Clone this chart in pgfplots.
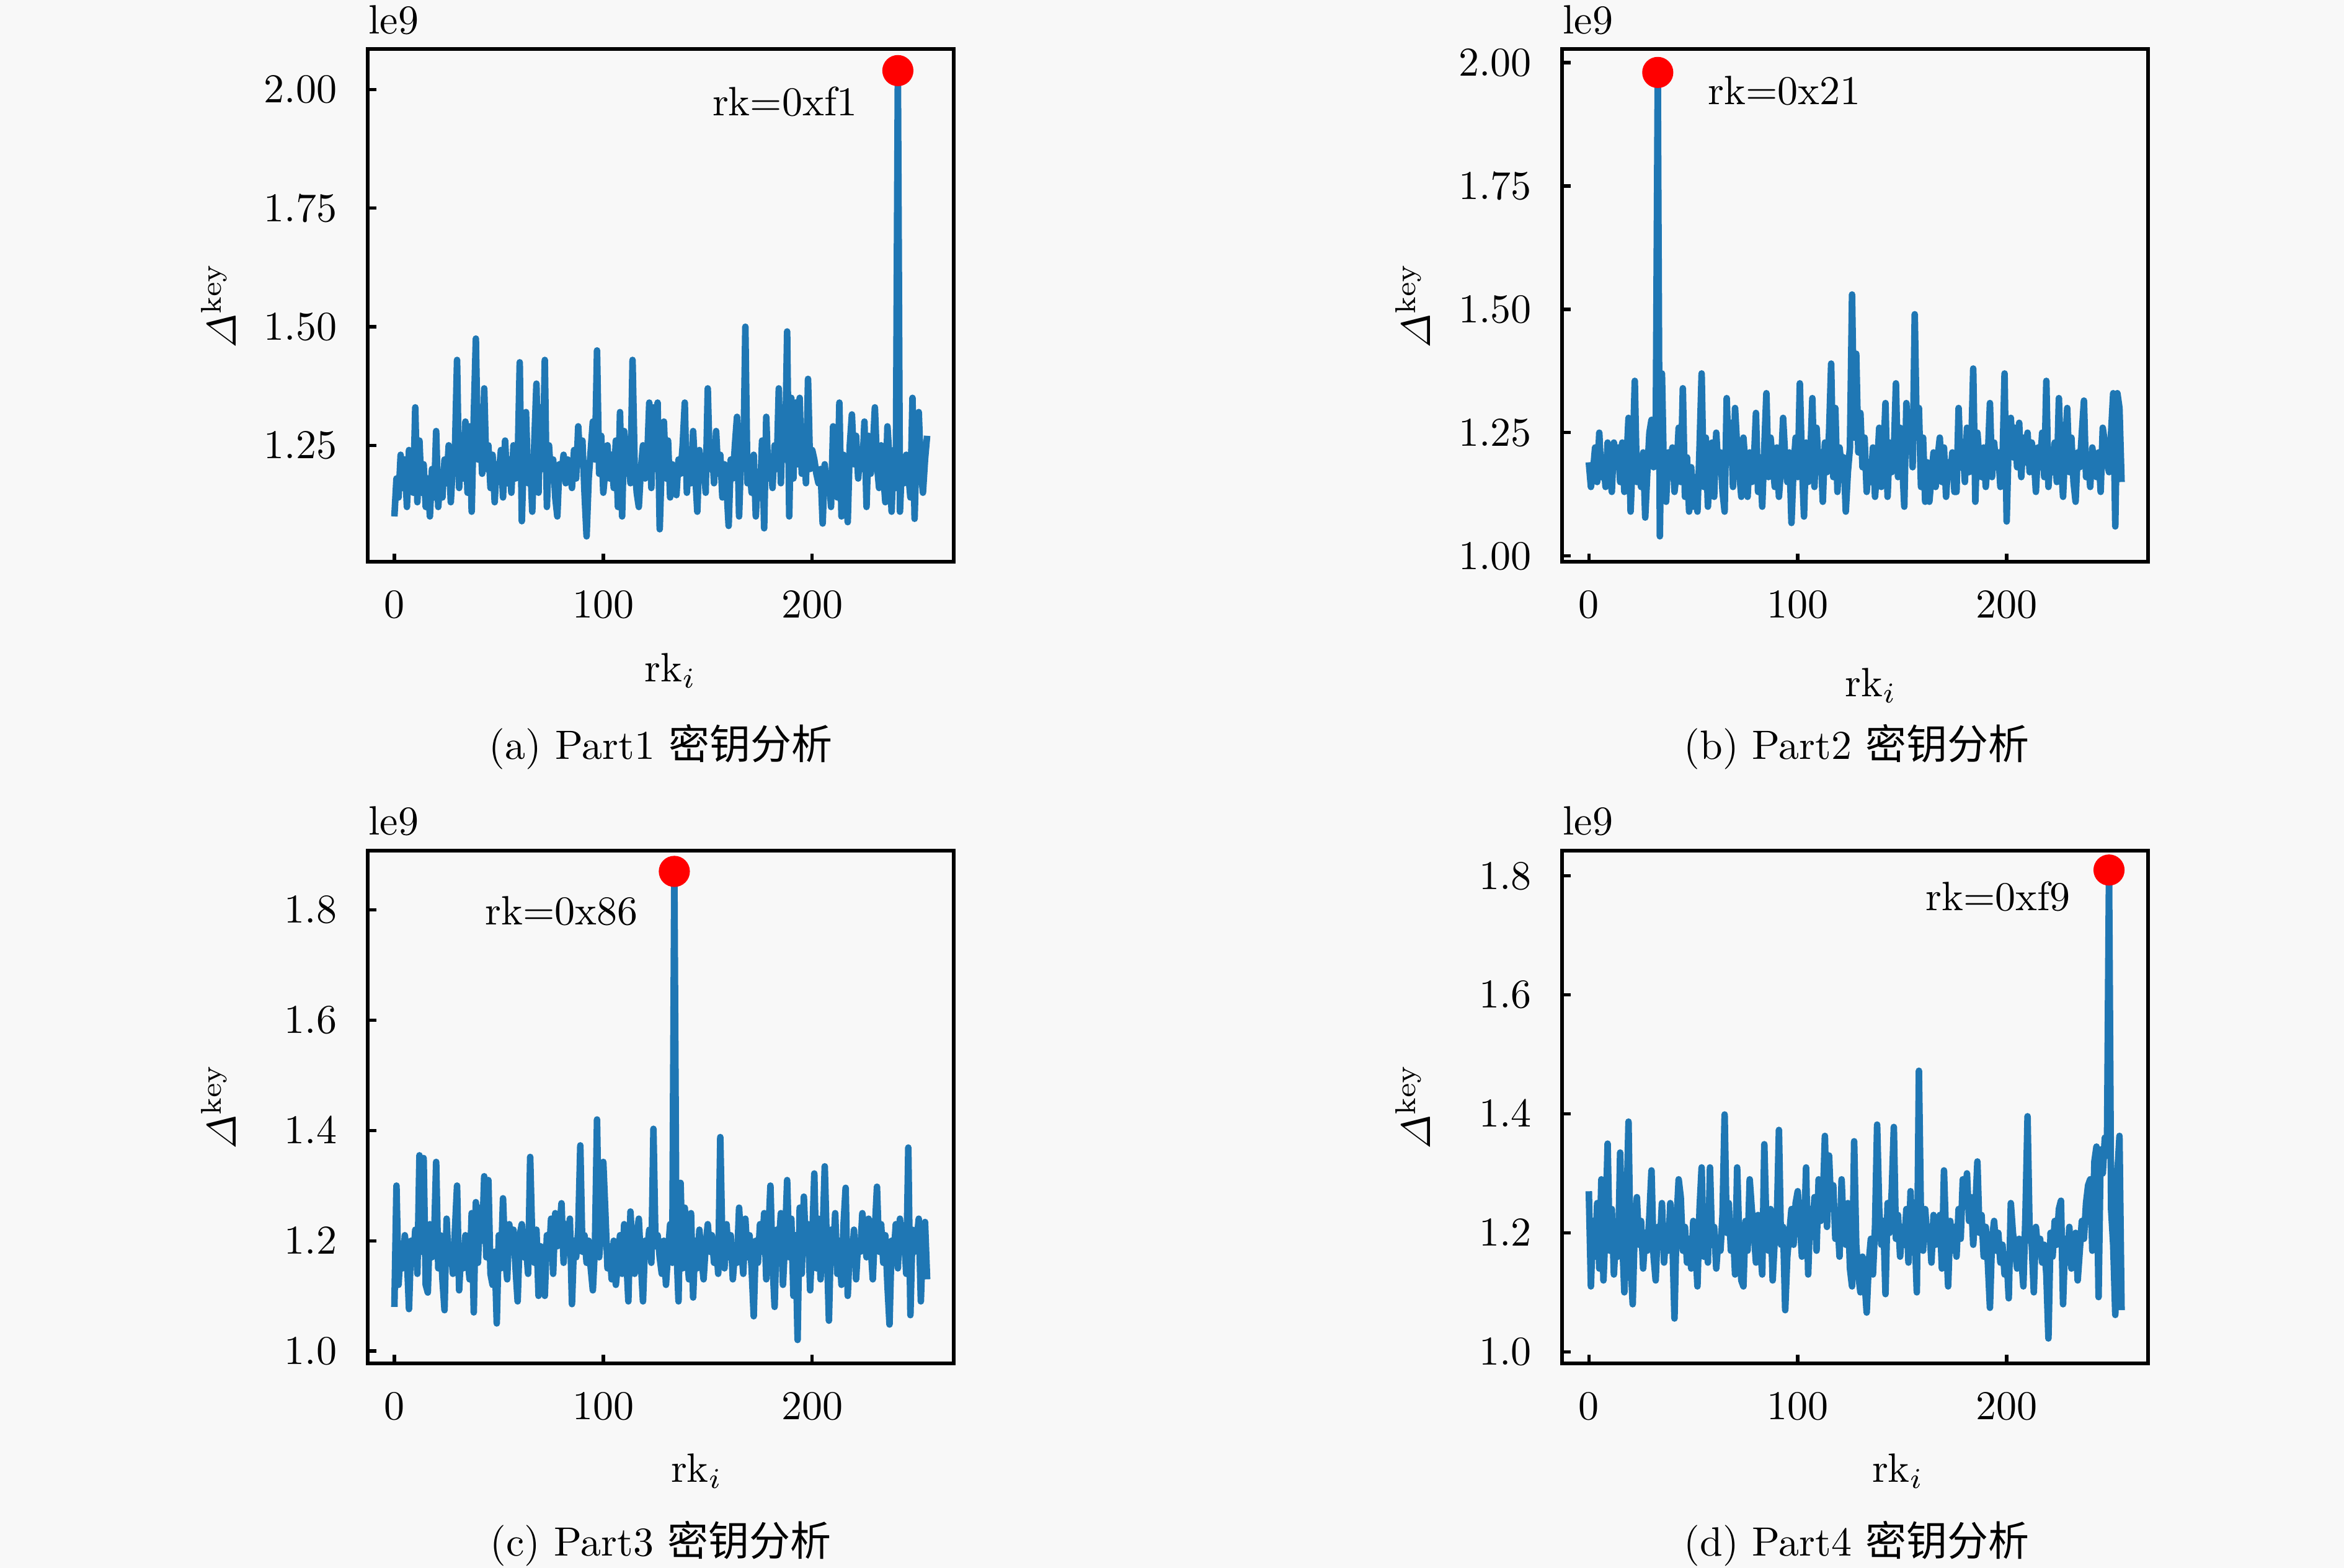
\documentclass[border=0pt]{standalone}
\usepackage{amsmath}
\usepackage{fontspec}
\usepackage{pgfplots}
\usepackage{pgfplotstable}
\pgfplotsset{compat=1.18}
\newfontfamily\cjk{Noto Sans CJK SC}
\definecolor{tabblue}{RGB}{31,119,180}
\definecolor{bgc}{RGB}{248,248,248}

\pgfplotstableread[header=false,row sep=\\]{
1.10\\1.18\\1.14\\1.23\\1.16\\1.22\\1.12\\1.24\\1.19\\1.15\\1.33\\1.13\\1.26\\1.15\\1.21\\1.12\\
1.18\\1.10\\1.20\\1.14\\1.28\\1.12\\1.19\\1.14\\1.22\\1.17\\1.25\\1.13\\1.21\\1.24\\1.43\\1.16\\
1.26\\1.18\\1.30\\1.15\\1.29\\1.11\\1.31\\1.475\\1.22\\1.30\\1.19\\1.37\\1.20\\1.25\\1.16\\1.23\\
1.13\\1.21\\1.19\\1.24\\1.14\\1.26\\1.17\\1.22\\1.15\\1.25\\1.18\\1.21\\1.425\\1.09\\1.24\\1.32\\
1.17\\1.22\\1.11\\1.26\\1.38\\1.15\\1.33\\1.20\\1.43\\1.12\\1.25\\1.18\\1.22\\1.14\\1.10\\1.21\\
1.19\\1.23\\1.17\\1.22\\1.20\\1.16\\1.24\\1.18\\1.29\\1.21\\1.26\\1.15\\1.058\\1.18\\1.24\\1.30\\
1.22\\1.45\\1.19\\1.27\\1.15\\1.20\\1.25\\1.18\\1.23\\1.16\\1.26\\1.12\\1.32\\1.10\\1.28\\1.19\\
1.24\\1.17\\1.43\\1.21\\1.15\\1.12\\1.20\\1.25\\1.18\\1.22\\1.34\\1.16\\1.33\\1.20\\1.34\\1.073\\
1.22\\1.30\\1.18\\1.26\\1.14\\1.21\\1.17\\1.145\\1.22\\1.19\\1.25\\1.34\\1.15\\1.23\\1.17\\1.28\\
1.19\\1.11\\1.24\\1.18\\1.22\\1.15\\1.37\\1.20\\1.25\\1.17\\1.28\\1.19\\1.23\\1.14\\1.21\\1.16\\
1.08\\1.22\\1.18\\1.25\\1.31\\1.10\\1.24\\1.20\\1.50\\1.17\\1.21\\1.15\\1.23\\1.10\\1.19\\1.14\\
1.26\\1.075\\1.31\\1.18\\1.22\\1.16\\1.25\\1.20\\1.37\\1.17\\1.33\\1.22\\1.49\\1.10\\1.35\\1.18\\
1.34\\1.21\\1.35\\1.19\\1.28\\1.17\\1.39\\1.20\\1.24\\1.22\\1.19\\1.17\\1.20\\1.085\\1.21\\1.15\\
1.19\\1.12\\1.29\\1.18\\1.14\\1.34\\1.10\\1.23\\1.17\\1.088\\1.25\\1.315\\1.21\\1.27\\1.18\\1.24\\
1.20\\1.30\\1.12\\1.27\\1.19\\1.24\\1.33\\1.21\\1.16\\1.25\\1.19\\1.13\\1.29\\1.22\\1.11\\1.24\\
1.16\\2.04\\1.11\\1.22\\1.17\\1.23\\1.19\\1.14\\1.35\\1.095\\1.26\\1.32\\1.20\\1.15\\1.22\\1.27\\
}\dataA

\pgfplotstableread[header=false,row sep=\\]{
1.19\\1.14\\1.17\\1.22\\1.15\\1.25\\1.16\\1.20\\1.14\\1.23\\1.18\\1.13\\1.23\\1.19\\1.22\\1.15\\
1.23\\1.13\\1.19\\1.28\\1.09\\1.20\\1.355\\1.15\\1.19\\1.14\\1.21\\1.078\\1.17\\1.25\\1.276\\1.18\\
1.22\\1.98\\1.04\\1.37\\1.15\\1.11\\1.21\\1.16\\1.22\\1.13\\1.17\\1.26\\1.15\\1.34\\1.12\\1.20\\
1.09\\1.18\\1.10\\1.16\\1.09\\1.22\\1.37\\1.14\\1.24\\1.10\\1.19\\1.23\\1.12\\1.25\\1.17\\1.21\\
1.13\\1.09\\1.32\\1.19\\1.27\\1.14\\1.30\\1.22\\1.17\\1.12\\1.24\\1.18\\1.12\\1.21\\1.15\\1.19\\
1.29\\1.13\\1.20\\1.10\\1.22\\1.33\\1.16\\1.24\\1.19\\1.14\\1.22\\1.12\\1.18\\1.28\\1.20\\1.15\\
1.21\\1.067\\1.18\\1.24\\1.16\\1.35\\1.19\\1.08\\1.23\\1.15\\1.20\\1.32\\1.14\\1.26\\1.18\\1.21\\
1.11\\1.23\\1.17\\1.25\\1.39\\1.16\\1.30\\1.13\\1.22\\1.18\\1.20\\1.09\\1.17\\1.22\\1.53\\1.24\\
1.41\\1.21\\1.29\\1.18\\1.24\\1.13\\1.19\\1.15\\1.22\\1.12\\1.18\\1.26\\1.14\\1.20\\1.31\\1.12\\
1.23\\1.17\\1.21\\1.35\\1.16\\1.26\\1.19\\1.10\\1.31\\1.22\\1.28\\1.18\\1.49\\1.24\\1.30\\1.14\\
1.24\\1.11\\1.19\\1.11\\1.16\\1.21\\1.14\\1.20\\1.24\\1.15\\1.22\\1.12\\1.19\\1.16\\1.21\\1.13\\
1.13\\1.30\\1.18\\1.22\\1.15\\1.26\\1.17\\1.21\\1.38\\1.11\\1.25\\1.19\\1.16\\1.22\\1.14\\1.20\\
1.31\\1.16\\1.23\\1.18\\1.21\\1.14\\1.19\\1.37\\1.07\\1.24\\1.28\\1.20\\1.26\\1.18\\1.27\\1.16\\
1.24\\1.19\\1.25\\1.17\\1.23\\1.20\\1.13\\1.22\\1.18\\1.25\\1.16\\1.355\\1.14\\1.21\\1.17\\1.23\\
1.15\\1.32\\1.19\\1.12\\1.22\\1.30\\1.17\\1.24\\1.15\\1.11\\1.21\\1.18\\1.25\\1.315\\1.16\\1.20\\
1.14\\1.22\\1.18\\1.16\\1.21\\1.13\\1.26\\1.23\\1.19\\1.17\\1.25\\1.33\\1.06\\1.33\\1.30\\1.15\\
}\dataB

\pgfplotstableread[header=false,row sep=\\]{
1.08\\1.30\\1.12\\1.19\\1.15\\1.21\\1.17\\1.076\\1.20\\1.16\\1.22\\1.14\\1.355\\1.18\\1.35\\1.12\\
1.106\\1.23\\1.17\\1.20\\1.343\\1.15\\1.21\\1.13\\1.074\\1.24\\1.16\\1.19\\1.14\\1.22\\1.30\\1.11\\
1.19\\1.15\\1.21\\1.17\\1.13\\1.25\\1.07\\1.27\\1.16\\1.26\\1.20\\1.317\\1.17\\1.31\\1.14\\1.12\\
1.18\\1.05\\1.21\\1.15\\1.277\\1.17\\1.13\\1.23\\1.18\\1.22\\1.15\\1.09\\1.21\\1.23\\1.17\\1.19\\
1.14\\1.352\\1.20\\1.16\\1.22\\1.10\\1.19\\1.15\\1.10\\1.21\\1.17\\1.24\\1.14\\1.25\\1.19\\1.22\\
1.268\\1.16\\1.23\\1.19\\1.24\\1.085\\1.20\\1.17\\1.22\\1.373\\1.18\\1.21\\1.16\\1.20\\1.15\\1.11\\
1.19\\1.42\\1.17\\1.22\\1.343\\1.25\\1.15\\1.19\\1.13\\1.20\\1.12\\1.16\\1.21\\1.14\\1.23\\1.17\\
1.09\\1.253\\1.18\\1.14\\1.21\\1.24\\1.16\\1.09\\1.20\\1.18\\1.22\\1.16\\1.403\\1.19\\1.21\\1.17\\
1.14\\1.20\\1.12\\1.18\\1.23\\1.16\\1.87\\1.19\\1.09\\1.305\\1.15\\1.26\\1.18\\1.13\\1.25\\1.097\\
1.20\\1.15\\1.22\\1.17\\1.13\\1.19\\1.23\\1.18\\1.21\\1.16\\1.20\\1.14\\1.388\\1.19\\1.15\\1.23\\
1.17\\1.21\\1.13\\1.18\\1.16\\1.26\\1.19\\1.14\\1.24\\1.17\\1.21\\1.15\\1.063\\1.20\\1.16\\1.23\\
1.18\\1.25\\1.13\\1.21\\1.30\\1.16\\1.08\\1.22\\1.19\\1.25\\1.12\\1.20\\1.31\\1.17\\1.24\\1.10\\
1.21\\1.02\\1.26\\1.14\\1.28\\1.18\\1.23\\1.11\\1.20\\1.322\\1.15\\1.24\\1.13\\1.21\\1.335\\1.19\\
1.055\\1.22\\1.17\\1.25\\1.14\\1.20\\1.12\\1.23\\1.296\\1.10\\1.19\\1.16\\1.22\\1.13\\1.20\\1.18\\
1.25\\1.21\\1.17\\1.24\\1.19\\1.13\\1.22\\1.298\\1.18\\1.23\\1.16\\1.21\\1.12\\1.048\\1.20\\1.17\\
1.23\\1.15\\1.24\\1.19\\1.21\\1.14\\1.369\\1.065\\1.22\\1.18\\1.20\\1.24\\1.09\\1.21\\1.234\\1.13\\
}\dataC

\pgfplotstableread[header=false,row sep=\\]{
1.27\\1.11\\1.22\\1.16\\1.25\\1.14\\1.29\\1.12\\1.21\\1.35\\1.17\\1.24\\1.13\\1.20\\1.16\\1.335\\
1.19\\1.10\\1.23\\1.387\\1.15\\1.08\\1.21\\1.26\\1.18\\1.22\\1.14\\1.20\\1.17\\1.23\\1.305\\1.16\\
1.12\\1.21\\1.18\\1.25\\1.15\\1.20\\1.17\\1.25\\1.19\\1.056\\1.22\\1.29\\1.26\\1.17\\1.21\\1.15\\
1.19\\1.14\\1.22\\1.18\\1.11\\1.24\\1.31\\1.16\\1.20\\1.15\\1.31\\1.18\\1.21\\1.14\\1.19\\1.17\\
1.23\\1.399\\1.20\\1.25\\1.17\\1.21\\1.13\\1.31\\1.19\\1.12\\1.11\\1.22\\1.17\\1.29\\1.24\\1.20\\
1.15\\1.23\\1.18\\1.13\\1.349\\1.21\\1.17\\1.24\\1.12\\1.19\\1.22\\1.373\\1.18\\1.21\\1.07\\1.16\\
1.20\\1.24\\1.18\\1.25\\1.27\\1.22\\1.16\\1.19\\1.31\\1.13\\1.24\\1.20\\1.26\\1.17\\1.29\\1.22\\
1.25\\1.363\\1.21\\1.33\\1.24\\1.28\\1.19\\1.23\\1.16\\1.29\\1.20\\1.18\\1.25\\1.14\\1.11\\1.354\\
1.18\\1.13\\1.10\\1.16\\1.12\\1.066\\1.15\\1.19\\1.13\\1.21\\1.382\\1.24\\1.18\\1.22\\1.097\\1.25\\
1.20\\1.27\\1.378\\1.19\\1.23\\1.16\\1.21\\1.18\\1.24\\1.15\\1.27\\1.17\\1.20\\1.10\\1.4725\\1.22\\
1.17\\1.24\\1.19\\1.21\\1.15\\1.23\\1.18\\1.20\\1.23\\1.14\\1.305\\1.19\\1.11\\1.22\\1.17\\1.21\\
1.16\\1.24\\1.19\\1.29\\1.25\\1.30\\1.22\\1.26\\1.18\\1.24\\1.32\\1.20\\1.23\\1.16\\1.21\\1.15\\
1.074\\1.19\\1.22\\1.17\\1.20\\1.15\\1.18\\1.13\\1.16\\1.09\\1.25\\1.20\\1.17\\1.14\\1.19\\1.16\\
1.11\\1.23\\1.396\\1.20\\1.18\\1.10\\1.21\\1.17\\1.19\\1.15\\1.18\\1.13\\1.0225\\1.20\\1.16\\1.22\\
1.18\\1.24\\1.254\\1.08\\1.19\\1.15\\1.21\\1.14\\1.18\\1.20\\1.12\\1.17\\1.22\\1.19\\1.25\\1.28\\
1.29\\1.17\\1.32\\1.345\\1.092\\1.34\\1.30\\1.36\\1.33\\1.81\\1.24\\1.18\\1.062\\1.30\\1.363\\1.07\\
}\dataD

\pgfplotsset{
  kax/.style={
    scale only axis, width=143.08pt, height=125.2pt,
    anchor=south west,
    xmin=-12.75, xmax=267.75, xtick={0,100,200},
    tick pos=left, tick align=inside, major tick length=2.1pt,
    axis line style={line width=0.9pt},
    major tick style={line width=0.8pt, black},
    xticklabel style={anchor=base, yshift=-13.7pt},
    scaled ticks=false,
    clip mode=individual,
    ylabel={$\varDelta^{\mathrm{key}}$},
    ylabel style={at={(axis description cs:-0.2,0.5)}, anchor=south},
    xlabel={rk$_{i}$},
  },
  twodig/.style={yticklabel style={xshift=-4pt, /pgf/number format/.cd, fixed, fixed zerofill, precision=2}},
  onedig/.style={yticklabel style={xshift=-4pt, /pgf/number format/.cd, fixed, fixed zerofill, precision=1}},
  mainline/.style={tabblue, line width=1.6pt, line join=round},
  peak/.style={only marks, mark=*, mark size=3.6pt, color=red},
}

\begin{document}
\begin{tikzpicture}
\path[use as bounding box] (0,0) rectangle (572.32pt,382.885pt);
\fill[bgc] (0,0) rectangle (572.32pt,382.885pt);

% (a)
\begin{axis}[kax, twodig, at={(89.79pt,245.645pt)},
  ymin=1.004, ymax=2.085, ytick={1.25,1.5,1.75,2},
  xlabel style={at={(axis description cs:0.5166,-0.2332)}, anchor=base}]
\addplot[mainline] table[x expr=\coordindex, y index=0] {\dataA};
\addplot[peak] coordinates {(241,2.04)};
\node[anchor=base west, inner sep=0pt, yshift=3.8pt] at (axis description cs:0,1) {le9};
\node[anchor=base west, inner sep=0pt] at (axis description cs:0.587,0.870) {rk=0xf1};
\end{axis}

% (b)
\begin{axis}[kax, twodig, at={(381.425pt,245.645pt)},
  ymin=0.988, ymax=2.027, ytick={1,1.25,1.5,1.75,2},
  xlabel style={at={(axis description cs:0.5268,-0.2624)}, anchor=base}]
\addplot[mainline] table[x expr=\coordindex, y index=0] {\dataB};
\addplot[peak] coordinates {(33,1.98)};
\node[anchor=base west, inner sep=0pt, yshift=3.8pt] at (axis description cs:0,1) {le9};
\node[anchor=base west, inner sep=0pt] at (axis description cs:0.2474,0.8927) {rk=0x21};
\end{axis}

% (c)
\begin{axis}[kax, onedig, at={(89.79pt,50.005pt)},
  ymin=0.978, ymax=1.908, ytick={1,1.2,1.4,1.6,1.8},
  xlabel style={at={(axis description cs:0.5612,-0.2318)}, anchor=base}]
\addplot[mainline] table[x expr=\coordindex, y index=0] {\dataC};
\addplot[peak] coordinates {(134,1.87)};
\node[anchor=base west, inner sep=0pt, yshift=3.8pt] at (axis description cs:0,1) {le9};
\node[anchor=base west, inner sep=0pt] at (axis description cs:0.199,0.8548) {rk=0x86};
\end{axis}

% (d)
\begin{axis}[kax, onedig, at={(381.425pt,50.005pt)},
  ymin=0.981, ymax=1.843, ytick={1,1.2,1.4,1.6,1.8},
  xlabel style={at={(axis description cs:0.5727,-0.2318)}, anchor=base}]
\addplot[mainline] table[x expr=\coordindex, y index=0] {\dataD};
\addplot[peak] coordinates {(249,1.81)};
\node[anchor=base west, inner sep=0pt, yshift=3.8pt] at (axis description cs:0,1) {le9};
\node[anchor=base west, inner sep=0pt] at (axis description cs:0.619,0.883) {rk=0xf9};
\end{axis}

\node[anchor=base] at (161.33pt,197.465pt) {(a) Part1 {\cjk 密钥分析}};
\node[anchor=base] at (453.33pt,197.465pt) {(b) Part2 {\cjk 密钥分析}};
\node[anchor=base] at (161.33pt,2.92pt) {(c) Part3 {\cjk 密钥分析}};
\node[anchor=base] at (453.33pt,2.92pt) {(d) Part4 {\cjk 密钥分析}};
\end{tikzpicture}
\end{document}
